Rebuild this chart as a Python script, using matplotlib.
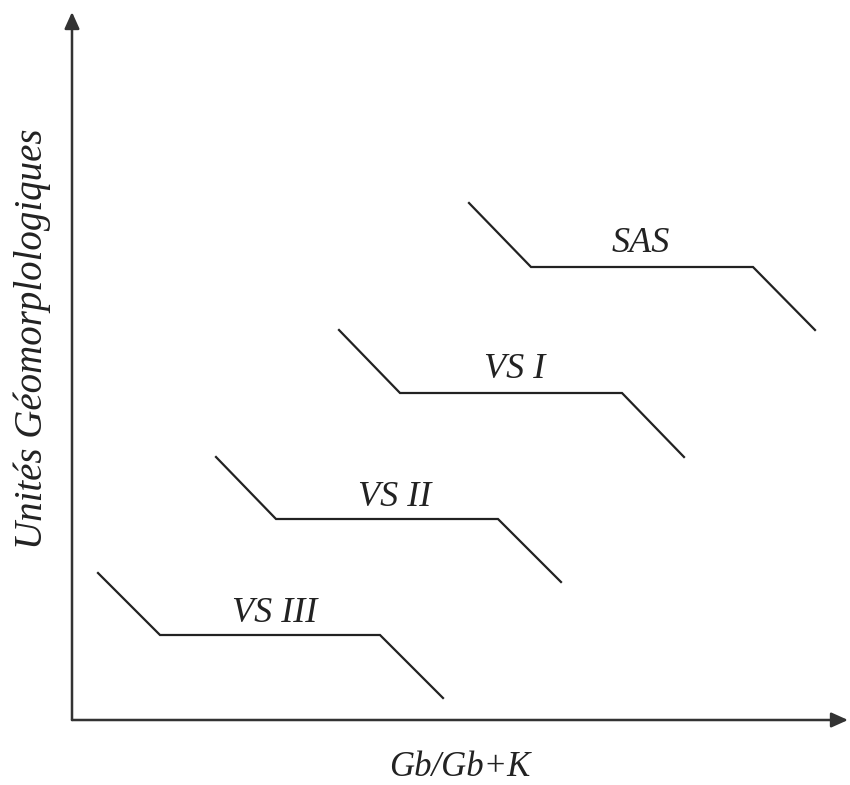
import matplotlib.pyplot as plt

# units, origin at the axes corner
sas_x = [397, 459, 681, 743]
sas_y = [517, 453, 453, 390]
vs1_x = [267, 328, 550, 612]
vs1_y = [390, 327, 327, 263]
vs2_x = [144, 204, 426, 489]
vs2_y = [263, 201, 201, 138]
vs3_x = [26, 88, 308, 371]
vs3_y = [147, 85, 85, 22]

names = ['SAS', 'VS I', 'VS II', 'VS III']
label_x = [569, 443, 323, 203]
label_y = [476, 350, 223, 107]

xs = [sas_x, vs1_x, vs2_x, vs3_x]
ys = [sas_y, vs1_y, vs2_y, vs3_y]

fig = plt.figure(figsize=(8.5, 7.85), dpi=100)
ax = fig.add_axes([0, 0, 1, 1])
ax.set_xlim(-72, 778)
ax.set_ylim(-65, 720)
ax.axis('off')

serif = ['Liberation Serif', 'DejaVu Serif']

for x, y in zip(xs, ys):
    ax.plot(x, y, color='#222222', lw=1.6, solid_joinstyle='miter')

for n, lx, ly in zip(names, label_x, label_y):
    ax.text(lx, ly, n, ha='center', va='center', fontsize=26,
            style='italic', family=serif, color='#222222')

# axes with arrows
arrow = dict(arrowstyle='-|>,head_length=1.0,head_width=0.45',
             color='#333333', lw=1.8, shrinkA=0, shrinkB=0)
ax.annotate('', xy=(776, 0), xytext=(0, 0), arrowprops=arrow)
ax.annotate('', xy=(0, 708), xytext=(0, 0), arrowprops=arrow)

ax.text(388, -48, 'Gb/Gb+K', ha='center', va='center', fontsize=25,
        style='italic', family=serif, color='#222222')
ax.text(-40, 381, 'Unités Géomorplologiques', ha='center', va='center',
        rotation=90, fontsize=28, style='italic', family=serif,
        color='#222222')

fig.savefig('out.png', dpi=100)
